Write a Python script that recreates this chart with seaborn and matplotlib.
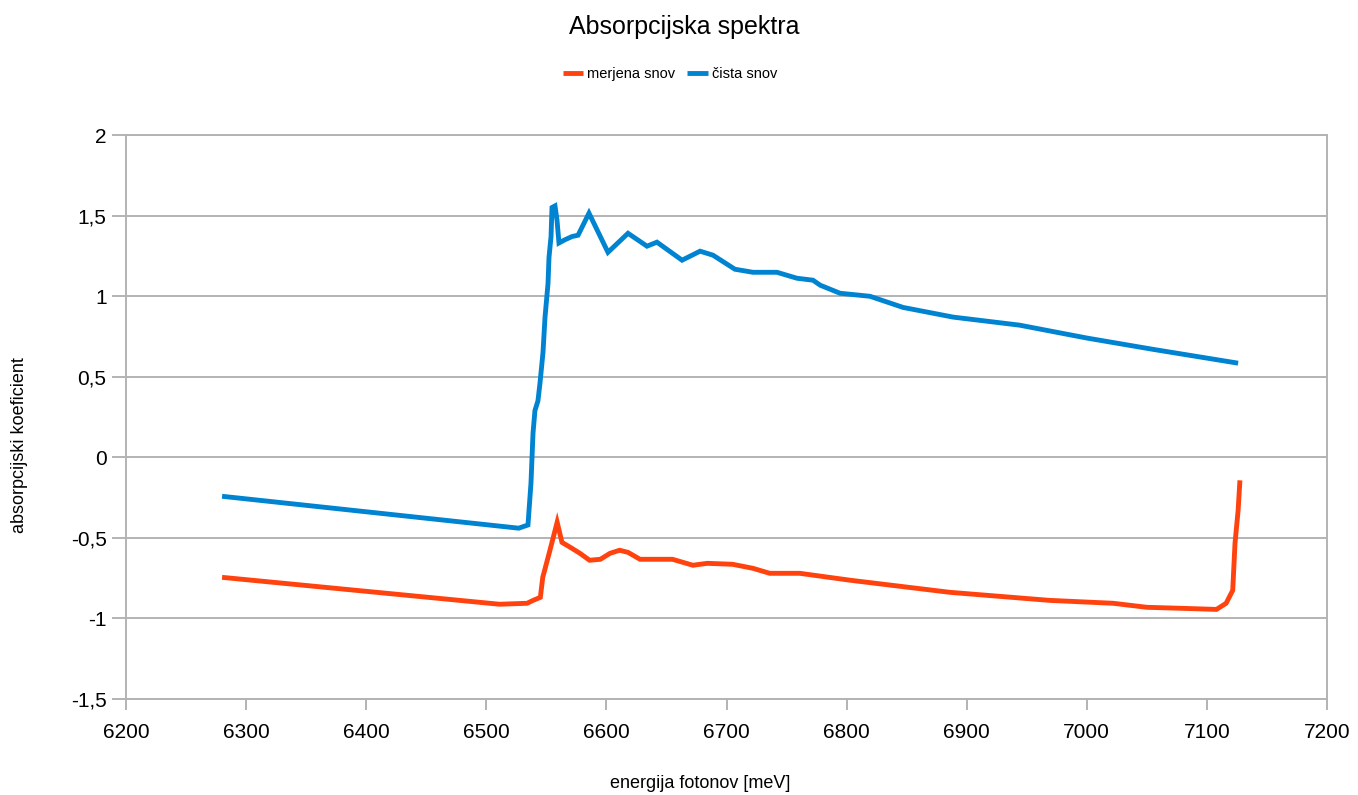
import pandas as pd
import matplotlib
matplotlib.use('Agg')
import matplotlib.pyplot as plt
from matplotlib.ticker import FuncFormatter, MultipleLocator
import seaborn as sns

# measured sample (merjena snov)
e_merjena = [6280, 6511, 6534, 6539, 6545, 6547, 6553, 6559, 6563, 6570, 6578,
             6586, 6595, 6603, 6611, 6618, 6628, 6655, 6672, 6684, 6705, 6722,
             6736, 6761, 6803, 6886, 6969, 7022, 7050, 7078, 7108, 7116, 7121.5,
             7123.4, 7126, 7127.5]
mu_merjena = [-0.745, -0.912, -0.906, -0.888, -0.869, -0.745, -0.577, -0.403,
              -0.528, -0.559, -0.596, -0.639, -0.633, -0.596, -0.577, -0.590,
              -0.633, -0.633, -0.670, -0.658, -0.664, -0.689, -0.720, -0.720,
              -0.763, -0.838, -0.888, -0.906, -0.931, -0.937, -0.944, -0.906,
              -0.826, -0.534, -0.329, -0.143]

# pure sample (čista snov)
e_cista = [6280, 6527, 6534.7, 6537.2, 6538.9, 6540.5, 6543, 6544.7, 6547.2,
           6548.9, 6551.4, 6552.2, 6553.9, 6554.7, 6557.2, 6558.9, 6560.5,
           6565.5, 6571.4, 6576.4, 6585.5, 6601.3, 6618, 6633.8, 6642.1, 6663,
           6678, 6688.8, 6707, 6722, 6742, 6758.7, 6772, 6778, 6794.5, 6819.5,
           6847, 6888.6, 6944, 7000, 7055, 7126]
mu_cista = [-0.242, -0.44, -0.42, -0.16, 0.15, 0.29, 0.35, 0.46, 0.65, 0.87,
            1.08, 1.24, 1.37, 1.55, 1.56, 1.47, 1.33, 1.35, 1.37, 1.378, 1.515,
            1.272, 1.39, 1.31, 1.335, 1.223, 1.279, 1.254, 1.167, 1.148, 1.148,
            1.111, 1.099, 1.068, 1.018, 0.999, 0.93, 0.87, 0.82, 0.74, 0.67,
            0.584]

sns.set_style('white')
plt.rcParams['font.family'] = ['Liberation Sans', 'DejaVu Sans']
plt.rcParams['text.color'] = 'black'
plt.rcParams['xtick.labelcolor'] = 'black'
plt.rcParams['ytick.labelcolor'] = 'black'

fig = plt.figure(figsize=(13.58, 7.95), dpi=100)
ax = fig.add_axes([126 / 1358, 1 - 699 / 795, (1327 - 126) / 1358, (699 - 135) / 795])

sns.lineplot(x=e_merjena, y=mu_merjena, ax=ax, color='#ff420e', lw=3.5,
             label='merjena snov', estimator=None, sort=False,
             solid_capstyle='butt', solid_joinstyle='miter')
sns.lineplot(x=e_cista, y=mu_cista, ax=ax, color='#0084d1', lw=3.5,
             label='čista snov', estimator=None, sort=False,
             solid_capstyle='butt', solid_joinstyle='miter')

ax.set_xlim(6200, 7200)
ax.set_ylim(-1.5, 2)
ax.xaxis.set_major_locator(MultipleLocator(100))
ax.yaxis.set_major_locator(MultipleLocator(0.5))
ax.yaxis.set_major_formatter(FuncFormatter(lambda v, p: f'{v:g}'.replace('.', ',')))

grey = '#b3b3b3'
ax.grid(axis='y', color=grey, lw=1.4)
ax.grid(axis='x', visible=False)
for s in ax.spines.values():
    s.set_color(grey)
    s.set_linewidth(1.4)
ax.tick_params(axis='x', length=8, width=1.4, color=grey, labelsize=15, pad=9,
               bottom=True, direction='out')
ax.tick_params(axis='y', length=10, width=1.4, color=grey, labelsize=15, pad=4,
               left=True, direction='out')
ax.set_xlabel('')
ax.set_ylabel('')

handles, labels = ax.get_legend_handles_labels()
ax.get_legend().remove()
fig.legend(handles, labels, loc='center', bbox_to_anchor=(670 / 1358, 1 - 74 / 795),
           ncol=2, frameon=False, fontsize=10.5, handlelength=1.4,
           handletextpad=0.3, columnspacing=0.8)

fig.text(684 / 1358, 1 - 27 / 795, 'Absorpcijska spektra', ha='center', va='center',
         fontsize=18)
fig.text(700 / 1358, 1 - 783 / 795, 'energija fotonov [meV]', ha='center', va='center',
         fontsize=13)
fig.text(20 / 1358, 1 - 445 / 795, 'absorpcijski koeficient', ha='center', va='center',
         rotation=90, fontsize=13)

fig.savefig('out.png', dpi=100)
